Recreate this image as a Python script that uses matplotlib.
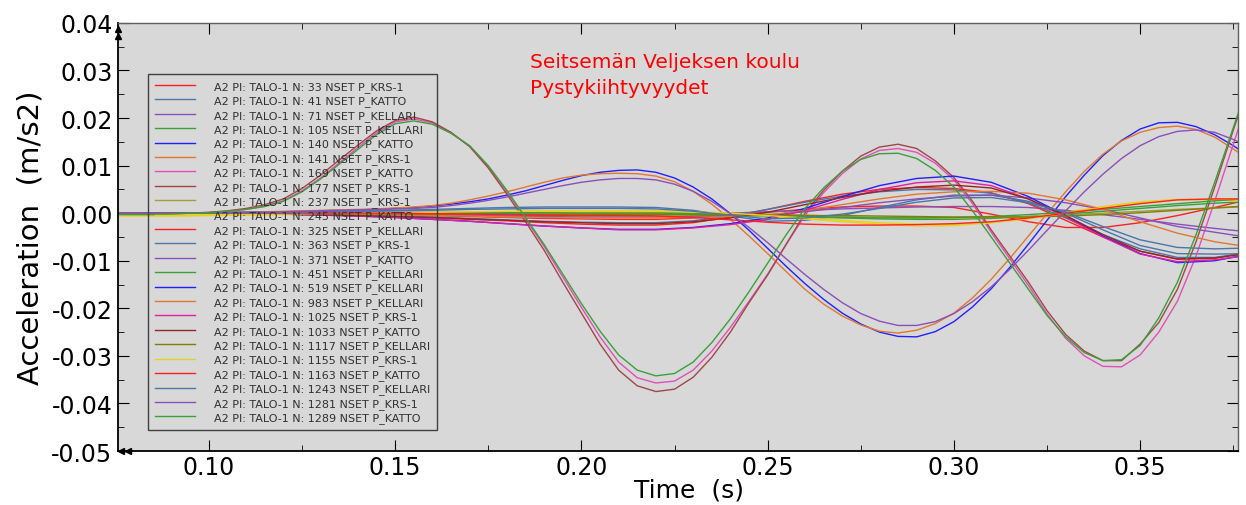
import matplotlib
matplotlib.use("Agg")
import matplotlib.pyplot as plt
import numpy as np
from matplotlib.ticker import MultipleLocator, FuncFormatter

plt.rcParams['font.family'] = ['DejaVu Sans']
plt.rcParams['axes.unicode_minus'] = False

# coarse time grid (s) for the small-amplitude nodes
time = [0.07, 0.08, 0.09, 0.10, 0.11, 0.12, 0.13, 0.14, 0.15, 0.16,
        0.17, 0.18, 0.19, 0.20, 0.21, 0.22, 0.23, 0.24, 0.25, 0.26,
        0.27, 0.28, 0.29, 0.30, 0.31, 0.32, 0.33, 0.34, 0.35, 0.36,
        0.37, 0.38]

# fine time grid (s) for the large-amplitude nodes
time_fine = [0.070, 0.075, 0.080, 0.085, 0.090, 0.095, 0.100, 0.105, 0.110, 0.115,
             0.120, 0.125, 0.130, 0.135, 0.140, 0.145, 0.150, 0.155, 0.160, 0.165,
             0.170, 0.175, 0.180, 0.185, 0.190, 0.195, 0.200, 0.205, 0.210, 0.215,
             0.220, 0.225, 0.230, 0.235, 0.240, 0.245, 0.250, 0.255, 0.260, 0.265,
             0.270, 0.275, 0.280, 0.285, 0.290, 0.295, 0.300, 0.305, 0.310, 0.315,
             0.320, 0.325, 0.330, 0.335, 0.340, 0.345, 0.350, 0.355, 0.360, 0.365,
             0.370, 0.375, 0.380]

# node labels in legend order
nodes = ['33 NSET P_KRS-1', '41 NSET P_KATTO', '71 NSET P_KELLARI', '105 NSET P_KELLARI',
         '140 NSET P_KATTO', '141 NSET P_KRS-1', '169 NSET P_KATTO', '177 NSET P_KRS-1',
         '237 NSET P_KRS-1', '245 NSET P_KATTO', '325 NSET P_KELLARI', '363 NSET P_KRS-1',
         '371 NSET P_KATTO', '451 NSET P_KELLARI', '519 NSET P_KELLARI', '983 NSET P_KELLARI',
         '1025 NSET P_KRS-1', '1033 NSET P_KATTO', '1117 NSET P_KELLARI', '1155 NSET P_KRS-1',
         '1163 NSET P_KATTO', '1243 NSET P_KELLARI', '1281 NSET P_KRS-1', '1289 NSET P_KATTO']

colors = ['#ff2020', '#4a76a8', '#8a50b8', '#3aa03a', '#2020ff', '#e07830', '#e050b8', '#a04848',
          '#a0a040', '#e8d020', '#ff2020', '#4a76a8', '#8a50b8', '#3aa03a', '#2020ff', '#e07830',
          '#e020a0', '#902828', '#808000', '#e8d020', '#ff2020', '#4a76a8', '#8a50b8', '#3aa03a']

# accelerations in 1e-3 m/s2
# --- large-amplitude nodes (fine grid) ---
acc_140 = [0.0, 0.0, 0.0, 0.0, 0.0, 0.1, 0.1, 0.2, 0.2, 0.3, 0.3, 0.4, 0.5, 0.6, 0.7, 0.8,
           1.0, 1.2, 1.5, 1.9, 2.4, 3.0, 3.8, 4.7, 5.8, 6.9, 7.9, 8.6, 9.0, 9.1, 8.6, 7.4,
           5.5, 3.0, -0.1, -3.6, -7.4, -11.2, -14.8, -18.1, -21.0, -23.3, -25.0, -25.9, -26.0, -24.9,
           -22.8, -19.7, -15.9, -11.4, -6.5, -1.5, 3.5, 8.0, 12.1, 15.3, 17.7, 19.0, 19.1, 18.2,
           16.5, 14.2, 11.5]
acc_141 = [0.0, 0.0, 0.0, 0.0, 0.0, 0.1, 0.1, 0.2, 0.2, 0.3, 0.4, 0.5, 0.6, 0.7, 0.8, 0.9,
           1.1, 1.3, 1.6, 2.1, 2.8, 3.6, 4.5, 5.5, 6.5, 7.4, 8.0, 8.3, 8.4, 8.3, 7.8, 6.6,
           4.6, 1.9, -1.3, -4.8, -8.5, -12.3, -16.0, -19.1, -21.6, -23.5, -24.8, -25.2, -24.6, -23.2,
           -21.0, -17.8, -13.9, -9.5, -4.8, -0.1, 4.5, 8.8, 12.4, 15.2, 17.0, 18.0, 18.3, 17.6,
           16.0, 13.5, 10.8]
acc_1281 = [0.0, 0.0, 0.0, 0.0, 0.0, 0.1, 0.1, 0.1, 0.2, 0.2, 0.3, 0.4, 0.5, 0.6, 0.7, 0.8,
            0.9, 1.0, 1.2, 1.6, 2.1, 2.7, 3.4, 4.2, 5.0, 5.8, 6.5, 7.0, 7.3, 7.3, 7.0, 6.1,
            4.6, 2.5, -0.1, -3.0, -6.2, -9.6, -12.9, -16.0, -18.8, -21.1, -22.7, -23.6, -23.6, -22.8,
            -21.1, -18.6, -15.5, -11.8, -7.8, -3.6, 0.5, 4.5, 8.2, 11.5, 14.2, 16.1, 17.2, 17.5,
            17.0, 15.5, 13.5]
acc_169 = [-0.3, -0.3, -0.3, -0.3, -0.2, 0.0, 0.1, 0.4, 0.8, 1.5, 2.6, 4.7, 7.4, 10.6, 13.8, 16.9,
           19.2, 19.8, 19.0, 16.9, 14.1, 9.8, 4.5, -1.2, -7.0, -13.4, -19.8, -26.0, -31.3, -34.6, -35.7, -35.3,
           -33.0, -29.0, -24.0, -18.5, -12.8, -6.5, -0.5, 4.3, 8.3, 11.4, 13.2, 13.6, 12.8, 10.5,
           7.0, 2.0, -4.0, -9.6, -15.2, -21.2, -26.3, -30.0, -32.2, -32.3, -29.8, -25.0, -18.5, -9.0,
           2.5, 14.5, 26.5]
acc_177 = [-0.3, -0.3, -0.3, -0.3, -0.2, 0.0, 0.2, 0.5, 1.0, 1.8, 3.0, 5.2, 8.0, 11.2, 14.3, 17.3,
           19.5, 20.2, 19.2, 17.0, 14.0, 9.5, 4.0, -1.8, -7.8, -14.5, -21.0, -27.5, -33.0, -36.3, -37.5, -37.0,
           -34.5, -30.3, -25.0, -18.8, -13.0, -6.5, 0.0, 4.8, 8.8, 12.0, 13.9, 14.5, 13.6, 11.0,
           7.5, 2.5, -3.5, -9.0, -14.5, -20.5, -25.5, -29.0, -31.0, -31.0, -27.5, -23.0, -16.0, -6.0,
           5.5, 17.5, 29.0]
acc_1289 = [-0.3, -0.3, -0.3, -0.3, -0.2, 0.0, 0.1, 0.4, 0.8, 1.4, 2.5, 4.5, 7.2, 10.3, 13.4, 16.5,
            18.8, 19.4, 18.7, 16.8, 14.2, 10.0, 4.8, -0.9, -6.6, -12.8, -19.0, -24.8, -29.8, -33.0, -34.2, -33.7,
            -31.3, -27.2, -22.2, -16.5, -10.5, -4.5, 1.0, 5.3, 8.8, 11.3, 12.5, 12.6, 11.5, 9.0,
            5.5, 0.5, -5.0, -10.5, -16.0, -21.5, -26.0, -29.3, -31.0, -30.8, -27.8, -22.0, -14.5, -4.5,
            6.5, 18.0, 29.5]

# --- small-amplitude nodes (coarse grid) ---
acc_33 = [0.0, 0.0, 0.0, 0.0, 0.0, 0.0, -0.1, -0.2, -0.3, -0.5, -0.7, -0.9, -1.1, -1.2, -1.3, -1.3,
          -1.0, -0.5, 0.2, 0.8, 1.3, 1.5, 1.5, 1.2, -0.2, -1.8, -3.0, -3.0, -2.0, -0.5, 1.2, 3.0]
acc_41 = [0.0, 0.0, 0.0, 0.0, 0.1, 0.2, 0.3, 0.4, 0.6, 0.8, 1.0, 1.2, 1.3, 1.3, 1.3, 1.2,
          0.6, -0.6, -1.7, -1.5, -0.5, 1.2, 2.8, 3.8, 3.8, 2.5, 0.0, -3.5, -6.8, -8.5, -8.6, -8.5]
acc_71 = [0.0, 0.0, 0.0, 0.0, 0.0, 0.0, 0.0, -0.1, -0.1, -0.2, -0.3, -0.4, -0.5, -0.5, -0.5, -0.4,
          -0.2, 0.0, 0.3, 0.6, 0.9, 1.1, 1.3, 1.4, 1.4, 1.2, 0.6, -0.3, -1.3, -2.3, -3.2, -4.0]
acc_105 = [0.0, 0.0, 0.0, 0.0, 0.0, 0.0, 0.0, 0.0, 0.0, 0.0, -0.1, -0.1, -0.2, -0.2, -0.3, -0.3,
           -0.4, -0.5, -0.6, -0.8, -1.0, -1.2, -1.3, -1.3, -1.1, -0.7, -0.2, 0.4, 1.0, 1.6, 2.1, 2.5]
acc_237 = [0.0, 0.0, 0.0, 0.0, 0.0, 0.0, 0.1, 0.1, 0.2, 0.2, 0.2, 0.2, 0.2, 0.2, 0.2, 0.2,
           0.1, 0.0, -0.2, -0.4, -0.7, -0.9, -1.0, -1.0, -0.9, -0.7, -0.4, 0.0, 0.4, 0.8, 1.1, 1.4]
acc_245 = [-0.6, -0.6, -0.6, -0.5, -0.4, -0.3, -0.2, -0.1, 0.0, 0.1, 0.2, 0.3, 0.4, 0.4, 0.4, 0.4,
           0.2, -0.1, -0.6, -1.2, -1.8, -2.3, -2.7, -2.6, -2.0, -1.0, 0.2, 1.4, 2.4, 2.9, 2.8, 2.4]
acc_325 = [0.0, 0.0, 0.0, 0.0, -0.1, -0.2, -0.3, -0.5, -0.7, -1.0, -1.3, -1.6, -2.0, -2.3, -2.5, -2.5,
           -2.0, -0.8, 0.8, 2.5, 4.0, 5.0, 5.4, 5.2, 4.3, 2.0, -1.5, -5.0, -8.0, -9.7, -9.5, -8.0]
acc_363 = [0.0, 0.0, 0.0, 0.0, -0.1, -0.2, -0.3, -0.4, -0.6, -0.8, -1.1, -1.4, -1.7, -1.9, -2.0, -2.0,
           -1.6, -0.6, 0.8, 2.3, 3.6, 4.5, 5.0, 4.9, 4.2, 2.2, -1.0, -4.5, -7.5, -9.3, -9.3, -8.2]
acc_371 = [0.0, 0.0, 0.0, 0.0, 0.0, 0.0, -0.1, -0.2, -0.3, -0.4, -0.5, -0.6, -0.7, -0.8, -0.8, -0.8,
           -0.7, -0.6, -0.4, 0.3, 1.2, 2.2, 3.0, 3.6, 3.8, 3.2, 2.2, 0.8, -1.0, -2.8, -4.0, -5.2]
acc_451 = [0.0, 0.0, 0.0, 0.0, 0.0, 0.0, 0.0, 0.0, 0.1, 0.1, 0.1, 0.1, 0.1, 0.0, 0.0, 0.0,
           -0.1, -0.3, -0.5, -0.7, -0.9, -1.0, -1.0, -0.9, -0.7, -0.3, 0.2, 0.8, 1.4, 2.0, 2.6, 3.1]
acc_519 = [0.0, 0.0, 0.0, 0.0, -0.1, -0.2, -0.4, -0.6, -0.9, -1.3, -1.7, -2.2, -2.7, -3.1, -3.4, -3.4,
           -3.0, -2.2, -1.0, 1.0, 3.5, 5.8, 7.3, 7.8, 6.5, 3.5, -0.5, -4.8, -8.5, -10.4, -10.0, -8.5]
acc_983 = [0.0, 0.0, 0.0, 0.0, 0.0, -0.1, -0.2, -0.3, -0.4, -0.5, -0.6, -0.8, -0.9, -1.0, -1.0, -1.0,
           -0.9, -0.7, -0.4, 0.6, 1.8, 3.0, 4.0, 4.5, 4.6, 4.2, 2.8, 0.8, -1.8, -4.2, -6.0, -7.2]
acc_1025 = [0.0, 0.0, 0.0, 0.0, -0.1, -0.2, -0.4, -0.6, -0.9, -1.3, -1.7, -2.2, -2.7, -3.1, -3.5, -3.5,
            -3.1, -2.4, -1.3, 0.6, 2.9, 5.0, 6.4, 6.8, 5.8, 3.0, -0.8, -5.0, -8.6, -10.2, -9.8, -8.8]
acc_1033 = [0.0, 0.0, 0.0, 0.0, -0.1, -0.2, -0.3, -0.5, -0.7, -0.9, -1.2, -1.5, -1.8, -2.0, -2.2, -2.2,
            -1.8, -1.0, 0.2, 1.8, 3.3, 4.6, 5.5, 5.9, 5.3, 3.0, -0.5, -4.5, -8.0, -9.6, -9.4, -8.4]
acc_1117 = [0.0, 0.0, 0.0, 0.0, 0.0, 0.0, 0.0, -0.1, -0.1, -0.1, -0.1, -0.2, -0.2, -0.2, -0.2, -0.2,
            -0.3, -0.3, -0.4, -0.5, -0.5, -0.6, -0.7, -0.8, -0.8, -0.8, -0.6, -0.3, 0.1, 0.6, 1.1, 1.6]
acc_1155 = [-0.4, -0.4, -0.4, -0.3, -0.3, -0.2, -0.1, 0.0, 0.1, 0.2, 0.3, 0.4, 0.5, 0.5, 0.5, 0.5,
            0.3, 0.0, -0.5, -1.0, -1.5, -2.0, -2.3, -2.4, -2.0, -1.2, 0.0, 1.2, 2.2, 2.8, 3.0, 3.0]
acc_1163 = [0.0, 0.0, 0.0, 0.0, 0.0, 0.0, 0.0, 0.0, 0.0, -0.1, -0.2, -0.3, -0.4, -0.5, -0.5, -0.6,
            -0.9, -1.4, -1.9, -2.3, -2.5, -2.5, -2.4, -2.2, -1.8, -1.0, 0.0, 1.0, 2.0, 2.8, 3.0, 3.0]
acc_1243 = [0.0, 0.0, 0.0, 0.0, 0.0, 0.1, 0.2, 0.3, 0.5, 0.6, 0.8, 0.9, 1.0, 1.0, 1.0, 0.9,
            0.4, -0.4, -1.2, -1.0, -0.2, 1.0, 2.3, 3.2, 3.3, 2.2, 0.2, -2.8, -5.6, -7.2, -7.5, -7.3]

series = [acc_33, acc_41, acc_71, acc_105, acc_140, acc_141, acc_169, acc_177,
          acc_237, acc_245, acc_325, acc_363, acc_371, acc_451, acc_519, acc_983,
          acc_1025, acc_1033, acc_1117, acc_1155, acc_1163, acc_1243, acc_1281, acc_1289]

fig = plt.figure(figsize=(12.46, 5.06), dpi=100)
ax = fig.add_axes([0.0947, 0.1067, 0.899, 0.846])
ax.set_facecolor('#d8d8d8')

for node, col, acc in zip(nodes, colors, series):
    tt = time_fine if len(acc) == len(time_fine) else time
    ax.plot(np.array(tt), np.array(acc) * 1e-3, color=col, lw=1.0,
            label='A2 PI: TALO-1 N: ' + node)

ax.set_xlim(0.0756, 0.3763)
ax.set_ylim(-0.05, 0.04)


def fmt(v, pos):
    if abs(v) < 1e-9:
        v = 0.0
    return '%.2f' % v


ax.xaxis.set_major_locator(MultipleLocator(0.05))
ax.xaxis.set_minor_locator(MultipleLocator(0.025))
ax.yaxis.set_major_locator(MultipleLocator(0.01))
ax.yaxis.set_minor_locator(MultipleLocator(0.005))
ax.xaxis.set_major_formatter(FuncFormatter(fmt))
ax.yaxis.set_major_formatter(FuncFormatter(fmt))
ax.tick_params(which='both', direction='in', top=True, right=True, labelsize=17)
ax.tick_params(axis='y', pad=4)
ax.tick_params(axis='x', pad=3)
ax.tick_params(which='major', length=8)
ax.tick_params(which='minor', length=4)

for side in ['left', 'bottom']:
    ax.spines[side].set_color('black')
    ax.spines[side].set_linewidth(1.3)
for side in ['top', 'right']:
    ax.spines[side].set_color('#606060')
    ax.spines[side].set_linewidth(1.0)

ax.set_xlabel('Time  (s)', fontsize=18, labelpad=0)
ax.xaxis.set_label_coords(0.51, -0.062)
ax.set_ylabel('Acceleration  (m/s2)', fontsize=21, labelpad=5)

# axis arrows at the origin corners
ax.plot([0.0, 0.0], [0.985, 0.97], transform=ax.transAxes, marker='^', ms=4,
        color='black', ls='none', clip_on=False)
ax.plot([0.003, 0.009], [0.0, 0.0], transform=ax.transAxes, marker='<', ms=4,
        color='black', ls='none', clip_on=False)

ax.text(0.368, 0.911, 'Seitsemän Veljeksen koulu', transform=ax.transAxes,
        color='#ff0000', fontsize=14.5, va='center', ha='left')
ax.text(0.368, 0.850, 'Pystykiihtyvyydet', transform=ax.transAxes,
        color='#ff0000', fontsize=14.5, va='center', ha='left')

leg = ax.legend(loc='upper left', bbox_to_anchor=(0.0268, 0.881), fontsize=8,
                frameon=True, fancybox=False, facecolor='none', framealpha=1,
                edgecolor='#404040', labelspacing=0.315, handlelength=3.6,
                handletextpad=1.7, borderpad=0.63, borderaxespad=0)
leg.get_frame().set_linewidth(1.0)
for txt in leg.get_texts():
    txt.set_color('#303030')

fig.savefig('out.png', dpi=100)
